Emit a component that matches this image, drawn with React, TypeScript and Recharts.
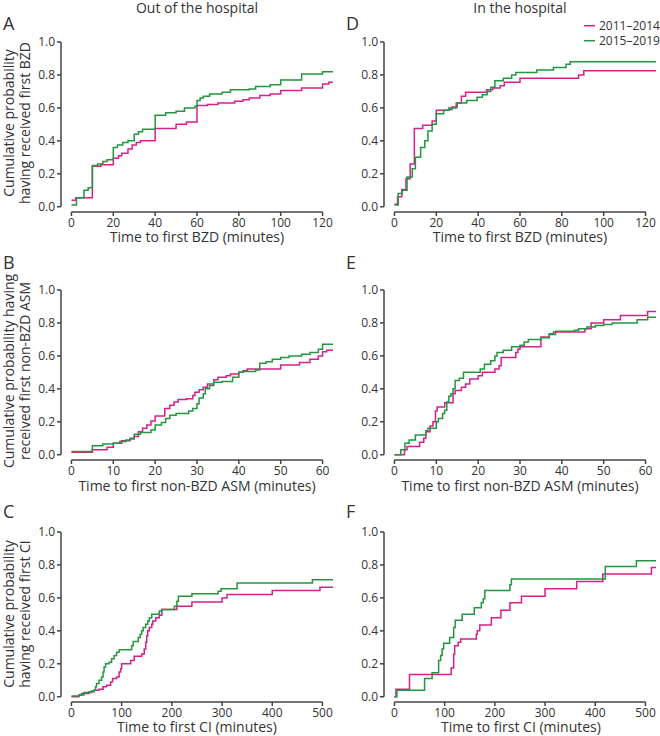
import React from "react";
import { LineChart, Line, XAxis, YAxis, ReferenceLine } from "recharts";

const MAGENTA = "#d6208a";
const GREEN = "#23963f";
const INK = "#333333";
const AXIS = "#444444";
const FONT = "'Open Sans', sans-serif";

type Pt = [number, number];

// [minutes, cumulative probability] at each step
// A: out of the hospital, first BZD
const bzdOut2011: Pt[] = [
  [0, 0.04], [2, 0.055], [10, 0.245], [14, 0.255], [20, 0.295], [22.5, 0.31], [24, 0.325],
  [27, 0.35], [29, 0.375], [31, 0.39], [33, 0.4], [40, 0.475], [50, 0.5], [55, 0.515],
  [60, 0.615], [65, 0.62], [70, 0.63], [78, 0.64], [82, 0.65], [85, 0.66], [90, 0.675],
  [95, 0.685], [100, 0.705], [110, 0.72], [120, 0.745], [123, 0.755], [125, 0.755],
];
const bzdOut2015: Pt[] = [
  [0, 0.01], [2.4, 0.055], [6, 0.1], [8, 0.115], [10, 0.25], [12.5, 0.26], [15, 0.275],
  [17, 0.285], [20, 0.36], [22, 0.375], [24.5, 0.39], [27, 0.4], [30, 0.44], [32, 0.455],
  [34, 0.47], [40, 0.555], [45, 0.57], [50, 0.58], [54, 0.6], [59, 0.61], [60, 0.645],
  [61.5, 0.66], [63, 0.67], [66, 0.685], [72, 0.695], [76, 0.71], [85, 0.715], [88, 0.73],
  [95, 0.74], [100, 0.77], [110, 0.805], [120, 0.82], [125, 0.82],
];

// D: in the hospital, first BZD
const bzdIn2011: Pt[] = [
  [0, 0.015], [1.5, 0.06], [3.5, 0.105], [5.5, 0.17], [7.5, 0.26], [9.5, 0.475], [13.5, 0.495],
  [18, 0.52], [20, 0.585], [26, 0.59], [27.5, 0.605], [30, 0.63], [32, 0.67], [34, 0.695],
  [44, 0.71], [47, 0.72], [50.5, 0.735], [52.5, 0.755], [60, 0.78], [88, 0.8], [90.5, 0.825],
  [125, 0.825],
];
const bzdIn2015: Pt[] = [
  [0, 0.01], [1.8, 0.08], [3.7, 0.1], [6, 0.18], [8.5, 0.23], [10, 0.3], [12.5, 0.36],
  [14.5, 0.4], [16, 0.46], [18, 0.5], [20, 0.565], [23.5, 0.585], [26, 0.6], [29.5, 0.63],
  [34.5, 0.645], [39.5, 0.665], [42, 0.68], [44.3, 0.7], [46, 0.725], [48, 0.765], [52, 0.78],
  [56, 0.8], [58, 0.815], [68, 0.83], [76, 0.845], [82, 0.865], [84, 0.88], [125, 0.88],
];

// B: out of the hospital, first non-BZD ASM
const asmOut2011: Pt[] = [
  [0, 0.015], [5, 0.03], [8.5, 0.045], [10, 0.07], [12, 0.085], [14, 0.095], [15, 0.11],
  [16, 0.14], [17, 0.16], [18, 0.18], [19, 0.205], [20, 0.235], [22.3, 0.28], [23.5, 0.3],
  [24.5, 0.32], [25.5, 0.335], [27.5, 0.34], [29, 0.36], [29.5, 0.38], [30.5, 0.395],
  [31.5, 0.41], [32.5, 0.43], [34, 0.455], [35, 0.47], [37, 0.48], [38, 0.49], [40, 0.5],
  [41, 0.51], [42, 0.52], [50, 0.545], [54.5, 0.56], [57, 0.58], [59, 0.6], [60, 0.625],
  [61, 0.635], [62.5, 0.635],
];
const asmOut2015: Pt[] = [
  [0, 0.02], [5, 0.055], [7.5, 0.065], [10, 0.07], [11.5, 0.08], [13, 0.09], [14, 0.1],
  [15, 0.125], [16.5, 0.135], [19, 0.15], [20, 0.18], [21.5, 0.195], [22.5, 0.22], [23.5, 0.24],
  [25, 0.25], [28, 0.265], [29, 0.28], [30, 0.31], [30.5, 0.345], [31.5, 0.37], [32, 0.4],
  [33, 0.42], [34, 0.44], [36, 0.445], [38.5, 0.47], [40, 0.5], [41, 0.505], [44, 0.515],
  [45, 0.555], [46.5, 0.565], [48, 0.58], [50, 0.59], [52, 0.6], [55, 0.61], [57, 0.62],
  [59, 0.64], [60, 0.67], [62.5, 0.67],
];

// E: in the hospital, first non-BZD ASM
const asmIn2011: Pt[] = [
  [0, 0], [2.4, 0.03], [3, 0.05], [6, 0.075], [7, 0.1], [7.5, 0.14], [8.5, 0.175], [9.2, 0.2],
  [9.8, 0.265], [10.2, 0.29], [12, 0.315], [14, 0.37], [14.5, 0.39], [16, 0.41], [17, 0.43],
  [18, 0.46], [20, 0.48], [21, 0.5], [24, 0.52], [25, 0.54], [25.5, 0.59], [29, 0.62],
  [29.5, 0.64], [30, 0.655], [35, 0.715], [37, 0.735], [38, 0.745], [45.5, 0.765], [47, 0.8],
  [50, 0.82], [54, 0.845], [60.5, 0.87], [62.5, 0.87],
];
const asmIn2015: Pt[] = [
  [0, 0], [1.5, 0.03], [2.5, 0.07], [3.5, 0.09], [5, 0.12], [7.5, 0.145], [8, 0.16], [10, 0.2],
  [10.5, 0.22], [11.5, 0.25], [12, 0.27], [12.5, 0.32], [13, 0.355], [13.5, 0.37], [14, 0.4],
  [14.5, 0.45], [15.5, 0.465], [16.5, 0.5], [20.5, 0.52], [21.5, 0.55], [23, 0.57], [24, 0.6],
  [24.5, 0.62], [26, 0.635], [28, 0.655], [30, 0.665], [31, 0.685], [32, 0.7], [35, 0.71],
  [37, 0.73], [38.5, 0.75], [43, 0.755], [44, 0.765], [46, 0.775], [48, 0.785], [50, 0.79],
  [52, 0.8], [58, 0.82], [60.5, 0.835], [62.5, 0.835],
];

// C: out of the hospital, first CI
const ciOut2011: Pt[] = [
  [0, 0], [15, 0.01], [20, 0.02], [35, 0.03], [45, 0.04], [55, 0.045], [63, 0.06], [70, 0.07],
  [78, 0.09], [82, 0.11], [90, 0.12], [95, 0.15], [98, 0.17], [100, 0.2], [118, 0.22],
  [125, 0.245], [140, 0.26], [145, 0.29], [148, 0.33], [150, 0.37], [152, 0.4], [155, 0.42],
  [160, 0.44], [162, 0.46], [168, 0.48], [175, 0.495], [180, 0.53], [210, 0.55], [240, 0.575],
  [300, 0.6], [310, 0.62], [400, 0.645], [495, 0.665], [521, 0.665],
];
const ciOut2015: Pt[] = [
  [0, 0.005], [15, 0.01], [25, 0.025], [40, 0.035], [45, 0.04], [48, 0.06], [50, 0.08],
  [55, 0.1], [60, 0.12], [63, 0.15], [65, 0.18], [68, 0.2], [75, 0.21], [80, 0.23], [85, 0.25],
  [90, 0.27], [95, 0.285], [120, 0.31], [123, 0.335], [133, 0.36], [137, 0.38], [140, 0.4],
  [143, 0.42], [148, 0.44], [152, 0.46], [155, 0.48], [160, 0.5], [175, 0.52], [180, 0.53],
  [205, 0.55], [210, 0.58], [213, 0.61], [240, 0.625], [292, 0.64], [298, 0.655], [330, 0.69],
  [480, 0.71], [521, 0.71],
];

// F: in the hospital, first CI
const ciIn2011: Pt[] = [
  [0, 0], [3, 0.045], [30, 0.135], [113, 0.175], [118, 0.26], [120, 0.31], [127, 0.33],
  [132, 0.35], [163, 0.38], [165, 0.4], [170, 0.435], [193, 0.48], [212, 0.525], [230, 0.57],
  [253, 0.61], [300, 0.655], [363, 0.7], [415, 0.745], [512, 0.785], [521, 0.785],
];
const ciIn2015: Pt[] = [
  [0, 0], [5, 0.04], [60, 0.11], [75, 0.145], [88, 0.22], [92, 0.25], [95, 0.29], [98, 0.325],
  [110, 0.36], [118, 0.42], [121, 0.465], [135, 0.5], [159, 0.54], [173, 0.57], [177, 0.595],
  [180, 0.645], [230, 0.68], [233, 0.715], [420, 0.79], [482, 0.825], [521, 0.825],
];

const Y_TICKS = [0, 0.2, 0.4, 0.6, 0.8, 1.0];
const BZD_TICKS = [0, 20, 40, 60, 80, 100, 120];
const ASM_TICKS = [0, 10, 20, 30, 40, 50, 60];
const CI_TICKS = [0, 100, 200, 300, 400, 500];

const PLOT_W = 272;
const PLOT_H = 170;
const Y_MIN = -0.032;
const Y_AXIS_W = 40;
const PAD = 10;
const X_AXIS_H = 30;

const toRows = (pts: Pt[]) => pts.map(([t, p]) => ({ t, p }));

const tickStyle = { fontSize: 12, fill: INK, fontFamily: FONT };

const Panel: React.FC<{
  left: number;
  top: number;
  domain: [number, number];
  ticks: number[];
  early: Pt[];
  late: Pt[];
}> = ({ left, top, domain, ticks, early, late }) => (
  <div style={{ position: "absolute", left: left - Y_AXIS_W, top: top - PAD }}>
    <LineChart
      width={Y_AXIS_W + PLOT_W + PAD}
      height={PAD + PLOT_H + X_AXIS_H}
      margin={{ top: PAD, right: PAD, bottom: 0, left: 0 }}
    >
      <XAxis
        type="number"
        dataKey="t"
        domain={domain}
        ticks={ticks}
        interval={0}
        allowDataOverflow
        axisLine={false}
        tickSize={4}
        tickLine={{ stroke: AXIS, strokeWidth: 1.5 }}
        tick={tickStyle}
        height={X_AXIS_H}
      />
      <YAxis
        type="number"
        dataKey="p"
        domain={[Y_MIN, 1]}
        ticks={Y_TICKS}
        interval={0}
        allowDataOverflow
        axisLine={false}
        tickSize={4}
        tickLine={{ stroke: AXIS, strokeWidth: 1.5 }}
        tick={tickStyle}
        tickFormatter={(v: number) => v.toFixed(1)}
        width={Y_AXIS_W}
      />
      {/* offset axes: x line spans first..last tick, y line spans 0..1 */}
      <ReferenceLine
        segment={[{ x: 0, y: Y_MIN }, { x: ticks[ticks.length - 1], y: Y_MIN }]}
        stroke={AXIS}
        strokeWidth={1.5}
        ifOverflow="visible"
      />
      <ReferenceLine
        segment={[{ x: domain[0], y: 0 }, { x: domain[0], y: 1 }]}
        stroke={AXIS}
        strokeWidth={1.5}
        ifOverflow="visible"
      />
      <Line data={toRows(early)} dataKey="p" type="stepAfter" stroke={MAGENTA} strokeWidth={1.5} dot={false} activeDot={false} isAnimationActive={false} />
      <Line data={toRows(late)} dataKey="p" type="stepAfter" stroke={GREEN} strokeWidth={1.5} dot={false} activeDot={false} isAnimationActive={false} />
    </LineChart>
  </div>
);

const YLabel: React.FC<{ cy: number; lines: string[] }> = ({ cy, lines }) => (
  <>
    {lines.map((s, i) => (
      <text key={i} transform={`translate(${13.5 + i * 16}, ${cy}) rotate(-90)`} textAnchor="middle" fontSize={14}>
        {s}
      </text>
    ))}
  </>
);

export default function App() {
  return (
    <div style={{ position: "absolute", left: 0, top: 0, width: 660, height: 736, background: "#fff", fontFamily: FONT }}>
      <Panel left={60.5} top={41.5} domain={[-5, 125]} ticks={BZD_TICKS} early={bzdOut2011} late={bzdOut2015} />
      <Panel left={383.5} top={41.5} domain={[-5, 125]} ticks={BZD_TICKS} early={bzdIn2011} late={bzdIn2015} />
      <Panel left={60.5} top={290} domain={[-2.5, 62.5]} ticks={ASM_TICKS} early={asmOut2011} late={asmOut2015} />
      <Panel left={383.5} top={290} domain={[-2.5, 62.5]} ticks={ASM_TICKS} early={asmIn2011} late={asmIn2015} />
      <Panel left={60.5} top={531.5} domain={[-20.8, 521]} ticks={CI_TICKS} early={ciOut2011} late={ciOut2015} />
      <Panel left={383.5} top={531.5} domain={[-20.8, 521]} ticks={CI_TICKS} early={ciIn2011} late={ciIn2015} />

      <svg width={660} height={736} style={{ position: "absolute", left: 0, top: 0, pointerEvents: "none" }} fill={INK} fontFamily={FONT}>
        <text x={197} y={12.5} textAnchor="middle" fontSize={14}>Out of the hospital</text>
        <text x={520} y={12.5} textAnchor="middle" fontSize={14}>In the hospital</text>

        <text x={3} y={30} fontSize={18}>A</text>
        <text x={346} y={30} fontSize={18}>D</text>
        <text x={3} y={269} fontSize={18}>B</text>
        <text x={346} y={269} fontSize={18}>E</text>
        <text x={3} y={518} fontSize={18}>C</text>
        <text x={346} y={518} fontSize={18}>F</text>

        <text x={197} y={242} textAnchor="middle" fontSize={14}>Time to first BZD (minutes)</text>
        <text x={520} y={242} textAnchor="middle" fontSize={14}>Time to first BZD (minutes)</text>
        <text x={197} y={491} textAnchor="middle" fontSize={14}>Time to first non-BZD ASM (minutes)</text>
        <text x={520} y={491} textAnchor="middle" fontSize={14}>Time to first non-BZD ASM (minutes)</text>
        <text x={197} y={732} textAnchor="middle" fontSize={14}>Time to first CI (minutes)</text>
        <text x={521} y={732} textAnchor="middle" fontSize={14}>Time to first CI (minutes)</text>

        <YLabel cy={123} lines={["Cumulative probability", "having received first BZD"]} />
        <YLabel cy={371} lines={["Cumulative probability having", "received first non-BZD ASM"]} />
        <YLabel cy={614} lines={["Cumulative probability", "having received first CI"]} />

        <line x1={584} x2={595} y1={25.7} y2={25.7} stroke={MAGENTA} strokeWidth={1.5} />
        <text x={599} y={30} fontSize={12}>2011–2014</text>
        <line x1={584} x2={595} y1={40.7} y2={40.7} stroke={GREEN} strokeWidth={1.5} />
        <text x={599} y={45} fontSize={12}>2015–2019</text>
      </svg>
    </div>
  );
}
